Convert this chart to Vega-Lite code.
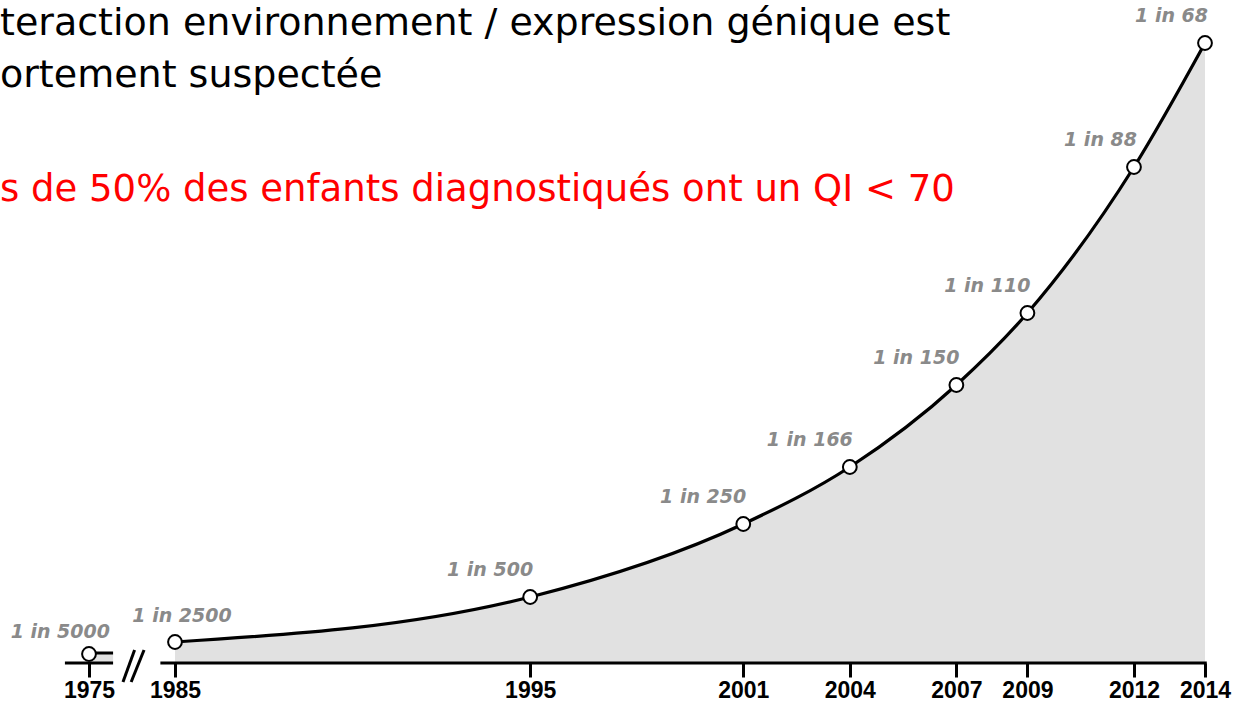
{
  "$schema": "https://vega.github.io/schema/vega-lite/v6.json",
  "width": 1233,
  "height": 663,
  "autosize": {"type": "none"},
  "padding": {"left": 0, "top": 0, "right": 0, "bottom": 42},
  "background": "white",
  "config": {"view": {"stroke": null}},
  "title": {
    "text": ["teraction environnement / expression génique est", "ortement suspectée"],
    "subtitle": "s de 50% des enfants diagnostiqués ont un QI < 70",
    "anchor": "start",
    "frame": "group",
    "orient": "top",
    "offset": -208,
    "font": "DejaVu Sans",
    "fontSize": 38,
    "fontWeight": "normal",
    "color": "black",
    "lineHeight": 52,
    "subtitleFont": "DejaVu Sans",
    "subtitleFontSize": 37,
    "subtitleColor": "red",
    "subtitlePadding": 77
  },
  "data": {
    "values": [
      {"annee": 1975, "niveau": 9, "taux": "1 in 5000"},
      {"annee": 1985, "niveau": 21, "taux": "1 in 2500"},
      {"annee": 1995, "niveau": 66, "taux": "1 in 500"},
      {"annee": 2001, "niveau": 139, "taux": "1 in 250"},
      {"annee": 2004, "niveau": 196, "taux": "1 in 166"},
      {"annee": 2007, "niveau": 278, "taux": "1 in 150"},
      {"annee": 2009, "niveau": 350, "taux": "1 in 110"},
      {"annee": 2012, "niveau": 496, "taux": "1 in 88"},
      {"annee": 2014, "niveau": 620, "taux": "1 in 68"}
    ]
  },
  "layer": [
    {
      "transform": [{"filter": "datum.annee >= 1985"}],
      "mark": {"type": "area", "interpolate": "monotone", "fill": "#e1e1e1"},
      "encoding": {
        "x": {
          "field": "annee", "type": "quantitative",
          "scale": {"domain": [1975, 1985, 2014], "range": [89, 175, 1205], "nice": false, "zero": false},
          "axis": {
            "values": [1975, 1985, 1995, 2001, 2004, 2007, 2009, 2012, 2014],
            "format": "d", "title": null, "domain": false, "grid": false,
            "tickSize": 14, "tickWidth": 3, "tickColor": "black",
            "labelFont": "Liberation Sans", "labelFontSize": 23, "labelFontWeight": "bold",
            "labelColor": "black", "labelPadding": 2, "labelFlush": false, "labelOverlap": false
          }
        },
        "y": {
          "field": "niveau", "type": "quantitative",
          "scale": {"domain": [0, 663], "nice": false, "zero": true},
          "axis": null
        }
      }
    },
    {
      "transform": [{"filter": "datum.annee >= 1985"}],
      "mark": {"type": "line", "interpolate": "monotone", "stroke": "black", "strokeWidth": 3.2},
      "encoding": {
        "x": {"field": "annee", "type": "quantitative"},
        "y": {"field": "niveau", "type": "quantitative"}
      }
    },
    {
      "data": {"values": [{}]},
      "mark": {"type": "rect", "fill": "#e1e1e1"},
      "encoding": {
        "x": {"datum": 1975, "type": "quantitative"},
        "x2": {"datum": 1977.8},
        "y": {"datum": 0, "type": "quantitative"},
        "y2": {"datum": 9}
      }
    },
    {
      "data": {"values": [{}]},
      "mark": {"type": "rule", "stroke": "black", "strokeWidth": 3},
      "encoding": {
        "x": {"datum": 1975, "type": "quantitative"},
        "x2": {"datum": 1977.8},
        "y": {"datum": 10, "type": "quantitative"}
      }
    },
    {
      "data": {"values": [{}]},
      "mark": {"type": "rule", "stroke": "black", "strokeWidth": 3},
      "encoding": {
        "x": {"datum": 1972.2, "type": "quantitative"},
        "x2": {"datum": 1977.8},
        "y": {"datum": 0, "type": "quantitative"}
      }
    },
    {
      "data": {"values": [{}]},
      "mark": {"type": "rule", "stroke": "black", "strokeWidth": 3},
      "encoding": {
        "x": {"datum": 1983.3, "type": "quantitative"},
        "x2": {"datum": 2014.05},
        "y": {"datum": 0, "type": "quantitative"}
      }
    },
    {
      "data": {"values": [{}]},
      "mark": {"type": "rule", "stroke": "black", "strokeWidth": 3},
      "encoding": {
        "x": {"datum": 1978.95, "type": "quantitative"},
        "x2": {"datum": 1980.3},
        "y": {"datum": -19, "type": "quantitative"},
        "y2": {"datum": 13}
      }
    },
    {
      "data": {"values": [{}]},
      "mark": {"type": "rule", "stroke": "black", "strokeWidth": 3},
      "encoding": {
        "x": {"datum": 1979.9, "type": "quantitative"},
        "x2": {"datum": 1981.4},
        "y": {"datum": -19, "type": "quantitative"},
        "y2": {"datum": 13}
      }
    },
    {
      "mark": {"type": "point", "shape": "circle", "filled": true, "fill": "white", "stroke": "black", "strokeWidth": 2, "size": 190, "opacity": 1},
      "encoding": {
        "x": {"field": "annee", "type": "quantitative"},
        "y": {"field": "niveau", "type": "quantitative"}
      }
    },
    {
      "transform": [{"filter": "datum.annee >= 1995"}],
      "mark": {"type": "text", "align": "right", "baseline": "middle", "dx": 3, "dy": -27, "font": "DejaVu Sans", "fontSize": 19, "fontStyle": "italic", "fontWeight": "bold", "fill": "#8a8a8a"},
      "encoding": {
        "x": {"field": "annee", "type": "quantitative"},
        "y": {"field": "niveau", "type": "quantitative"},
        "text": {"field": "taux"}
      }
    },
    {
      "transform": [{"filter": "datum.annee == 1975"}],
      "mark": {"type": "text", "align": "right", "baseline": "middle", "dx": 21, "dy": -22, "font": "DejaVu Sans", "fontSize": 19, "fontStyle": "italic", "fontWeight": "bold", "fill": "#8a8a8a"},
      "encoding": {
        "x": {"field": "annee", "type": "quantitative"},
        "y": {"field": "niveau", "type": "quantitative"},
        "text": {"field": "taux"}
      }
    },
    {
      "transform": [{"filter": "datum.annee == 1985"}],
      "mark": {"type": "text", "align": "center", "baseline": "middle", "dx": 7, "dy": -26, "font": "DejaVu Sans", "fontSize": 19, "fontStyle": "italic", "fontWeight": "bold", "fill": "#8a8a8a"},
      "encoding": {
        "x": {"field": "annee", "type": "quantitative"},
        "y": {"field": "niveau", "type": "quantitative"},
        "text": {"field": "taux"}
      }
    }
  ]
}
